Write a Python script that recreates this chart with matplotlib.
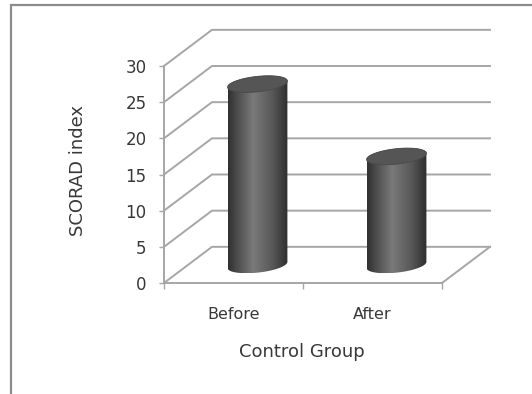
import matplotlib

matplotlib.use("Agg")
import matplotlib.pyplot as plt
import numpy as np
from matplotlib.colors import LinearSegmentedColormap
from matplotlib.patches import Polygon, Rectangle

# Scores per group
categories = ["Before", "After"]
scores = [25, 15]
y_ticks = [0, 5, 10, 15, 20, 25, 30]
x_title = "Control Group"
y_title = "SCORAD index"

# Oblique 3D look: how far the back wall sits from the front plane
DEPTH_X = 0.345  # in category units
DEPTH_Y = 5.0  # in score units
CYL_HALF_WIDTH = 0.2
CYL_DEPTH = 0.23  # cylinder radius as a share of the full depth

GRID_COLOR = "#a6a6a6"
TEXT_COLOR = "#383838"

cyl_cmap = LinearSegmentedColormap.from_list(
    "cyl",
    [(0.0, "#303030"), (0.12, "#474747"), (0.42, "#7a7a7a"), (0.75, "#575757"), (1.0, "#2e2e2e")],
)

W, H = 532, 394
fig = plt.figure(figsize=(W / 100, H / 100), dpi=100)
ax = fig.add_axes([164 / W, 1 - 283 / H, 278 / W, 217 / H])

n = len(categories)

# side wall and back wall grid lines
for v in y_ticks:
    ax.plot(
        [0, DEPTH_X, n + DEPTH_X],
        [v, v + DEPTH_Y, v + DEPTH_Y],
        color=GRID_COLOR,
        lw=1.4,
        clip_on=False,
        zorder=1,
    )
# right edge of the floor
ax.plot([n, n + DEPTH_X], [0, DEPTH_Y], color=GRID_COLOR, lw=1.4, clip_on=False, zorder=1)


def ellipse_points(cx, cy, t):
    x = cx + CYL_HALF_WIDTH * np.cos(t) + CYL_DEPTH * DEPTH_X * np.sin(t)
    y = cy + CYL_DEPTH * DEPTH_Y * np.sin(t)
    return x, y


a, b = CYL_HALF_WIDTH, CYL_DEPTH * DEPTH_X
t_right = np.arctan2(b, a)

for i, val in enumerate(scores):
    cx = i + 0.5 + DEPTH_X / 2
    base = DEPTH_Y / 2
    top = val + DEPTH_Y / 2

    # body outline: front half of the base, back half of the top
    t_low = np.linspace(t_right + np.pi, t_right + 2 * np.pi, 80)
    t_up = np.linspace(t_right, t_right + np.pi, 80)
    bx, by = ellipse_points(cx, base, t_low)
    tx, ty = ellipse_points(cx, top, t_up)
    body = Polygon(
        np.column_stack([np.r_[bx, tx], np.r_[by, ty]]),
        closed=True,
        facecolor="none",
        edgecolor="none",
    )
    ax.add_patch(body)

    xmin, xmax = bx.min(), bx.max()
    shade = np.linspace(0, 1, 200)[None, :]
    im = ax.imshow(
        shade,
        extent=[xmin, xmax, by.min(), ty.max()],
        cmap=cyl_cmap,
        aspect="auto",
        interpolation="bilinear",
        zorder=2,
    )
    im.set_clip_path(body)

    # top face
    t_all = np.linspace(0, 2 * np.pi, 160)
    ex, ey = ellipse_points(cx, top, t_all)
    ax.add_patch(
        Polygon(np.column_stack([ex, ey]), closed=True, facecolor="#555555", edgecolor="#4a4a4a", lw=0.6, zorder=3)
    )

ax.set_xlim(0, n)
ax.set_ylim(0, 30)

for side in ["top", "right"]:
    ax.spines[side].set_visible(False)
for side in ["left", "bottom"]:
    ax.spines[side].set_color(GRID_COLOR)
    ax.spines[side].set_linewidth(1.4)

ax.set_yticks(y_ticks)
ax.tick_params(axis="y", length=3.6, width=1, color=GRID_COLOR, pad=9, labelsize=12, labelcolor=TEXT_COLOR)
ax.set_xticks(np.arange(n) + 0.5, categories)
ax.set_xticks(np.arange(n + 1), minor=True)
ax.tick_params(axis="x", which="major", length=0, pad=17, labelsize=11.5, labelcolor=TEXT_COLOR)
ax.tick_params(axis="x", which="minor", length=4.3, width=1, color=GRID_COLOR)

ax.set_ylabel(y_title, fontsize=13, color=TEXT_COLOR, va="center")
ax.yaxis.set_label_coords(-0.31, 0.52)
ax.set_xlabel(x_title, fontsize=13, color=TEXT_COLOR, va="center")
ax.xaxis.set_label_coords(0.495, -0.32)

# chart frame, running off the right and bottom edges
fig.add_artist(
    Rectangle(
        (11 / W, -0.1),
        1.2,
        1.1 - 5 / H,
        transform=fig.transFigure,
        facecolor="none",
        edgecolor="#8c8c8c",
        lw=1.6,
    )
)

fig.savefig("out.png", dpi=100)
